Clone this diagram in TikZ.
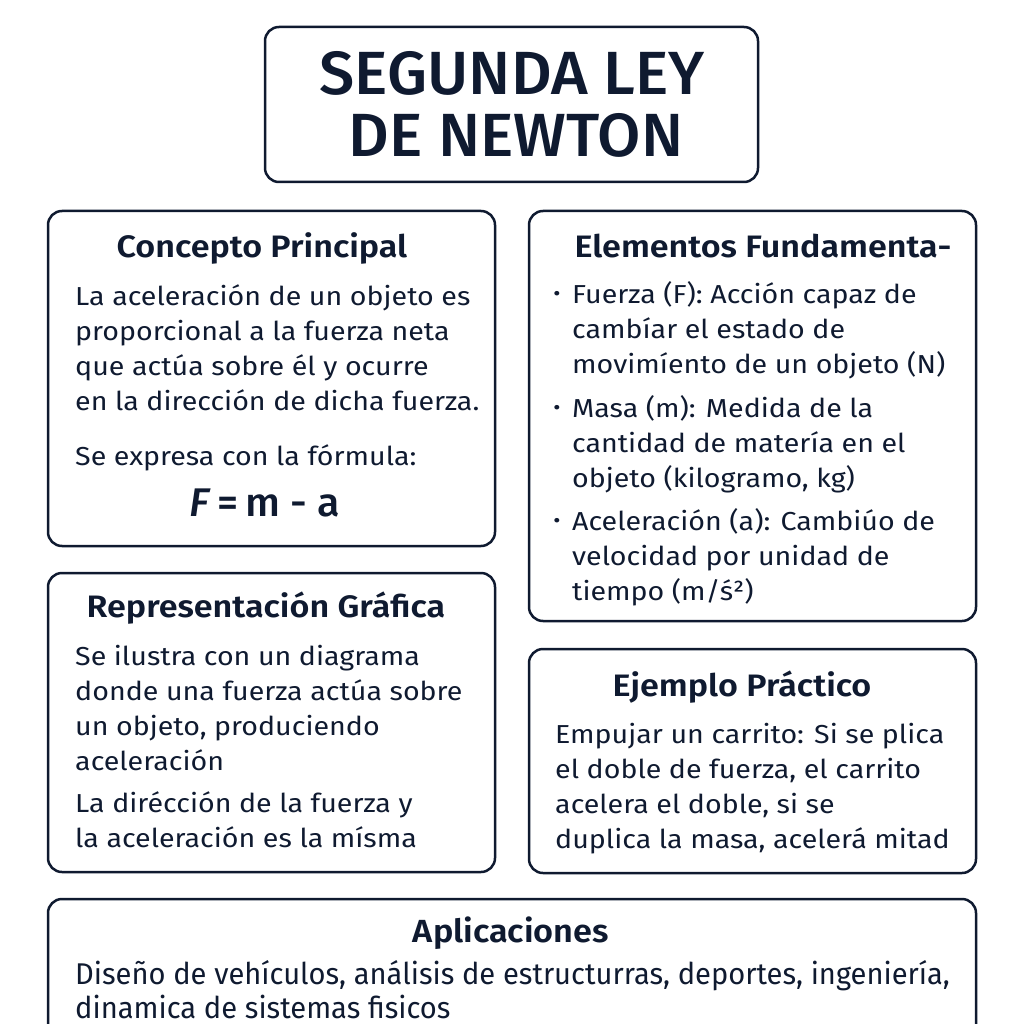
\documentclass[tikz,border=0pt]{standalone}
\usepackage{fontspec}
\setmainfont{Fira Sans}[FakeStretch=1.1]
\newfontfamily\titlefont{Fira Sans Medium}[FakeStretch=1.03]
\newfontfamily\headfont{Fira Sans SemiBold}[FakeStretch=1.1]
\newfontfamily\wideapp{Fira Sans}[FakeStretch=0.97]
\newfontfamily\wideapphead{Fira Sans SemiBold}[FakeStretch=1.07]
\definecolor{navy}{HTML}{0F1A30}

\tikzset{
  panel/.style={draw=navy, line width=2.5pt, rounded corners=14pt},
  heading/.style={font=\headfont\fontsize{31}{37}\selectfont, text=navy, inner sep=0pt, anchor=base},
  bodyline/.style={font=\fontsize{26}{35}\selectfont, text=navy, inner sep=0pt, anchor=base west},
  dot/.style={font=\fontsize{20}{20}\selectfont, text=navy, inner sep=0pt, anchor=base}
}

\begin{document}
\begin{tikzpicture}[x=1pt, y=-1pt]
\useasboundingbox (0,0) rectangle (1024,1024);
\clip (0,0) rectangle (1024,1024);

% title
\draw[panel] (265,27) rectangle (758,182);
\node[font=\titlefont\fontsize{61}{61}\selectfont, text=navy, inner sep=0pt, anchor=base] (title1) at (512,95) {SEGUNDA LEY};
\node[font=\titlefont\fontsize{61}{61}\selectfont, text=navy, inner sep=0pt, anchor=base] (title2) at (516,157) {DE NEWTON};

% concepto principal
\draw[panel] (48,211) rectangle (495,546);
\node[heading] (cp-head) at (262,258) {Concepto Principal};
\foreach \txt [count=\i] in {{La aceleración de un objeto es}, {proporcional a la fuerza neta},
    {que actúa sobre él y ocurre}, {en la dirección de dicha fuerza.}}
  \node[bodyline] (cp-\i) at (75,{305+35*(\i-1)}) {\txt};
\node[bodyline] (cp-5) at (75,465) {Se expresa con la fórmula:};
\node[font=\titlefont\fontsize{40}{42}\selectfont, text=navy, inner sep=0pt, anchor=base] (cp-formula) at (265,516) {\textit{F}\,=\,m - a};

% elementos fundamentales
\draw[panel] (529,211) rectangle (976,621);
\node[heading] (el-head) at (763,258) {Elementos Fundamenta-};
\foreach \txt [count=\i] in {{Fuerza (F): Acción capaz de}, {cambíar el estado de}, {movimíento de un objeto (N)}}
  \node[bodyline] (ef-\i) at (572,{303+35*(\i-1)}) {\txt};
\foreach \txt [count=\i] in {{Masa (m): Medida de la}, {cantidad de matería en el}, {objeto (kilogramo, kg)}}
  \node[bodyline] (em-\i) at (572,{417+35*(\i-1)}) {\txt};
\foreach \txt [count=\i] in {{Aceleración (a): Cambiúo de}, {velocidad por unidad de}, {tiempo (m/ś²)}}
  \node[bodyline] (ea-\i) at (572,{530+35*(\i-1)}) {\txt};
\foreach \y/\n in {303/f, 417/m, 530/a}
  \node[dot] (dot-\n) at (557,\y-3) {•};

% representacion grafica
\draw[panel] (48,573) rectangle (495,872);
\node[heading] (rg-head) at (266,617) {Representación Gráfica};
\foreach \txt [count=\i] in {{Se ilustra con un diagrama}, {donde una fuerza actúa sobre},
    {un objeto, produciendo}, {aceleración}}
  \node[bodyline] (rg-\i) at (75,{665+35*(\i-1)}) {\txt};
\foreach \txt [count=\i] in {{La dirécción de la fuerza y}, {la aceleración es la mísma}}
  \node[bodyline] (rd-\i) at (75,{812+35*(\i-1)}) {\txt};

% ejemplo practico
\draw[panel] (529,649) rectangle (976,873);
\node[heading] (ej-head) at (742,696) {Ejemplo Práctico};
\foreach \txt [count=\i] in {{Empujar un carrito: Si se plica}, {el doble de fuerza, el carrito},
    {acelera el doble, si se}, {duplica la masa, acelerá mitad}}
  \node[bodyline] (ej-\i) at (555,{743+35*(\i-1)}) {\txt};

% aplicaciones
\draw[panel] (48,899) rectangle (976,1060);
\node[font=\wideapphead\fontsize{32}{37}\selectfont, text=navy, inner sep=0pt, anchor=base] (ap-head) at (511,942) {Aplicaciones};
\foreach \txt [count=\i] in {{Diseño de vehículos, análisis de estructurras, deportes, ingeniería,}, {dinamica de sistemas fisicos}}
  \node[bodyline, font=\wideapp\fontsize{30}{35}\selectfont] (ap-\i) at (75,{984+34*(\i-1)}) {\txt};
\end{tikzpicture}
\end{document}
